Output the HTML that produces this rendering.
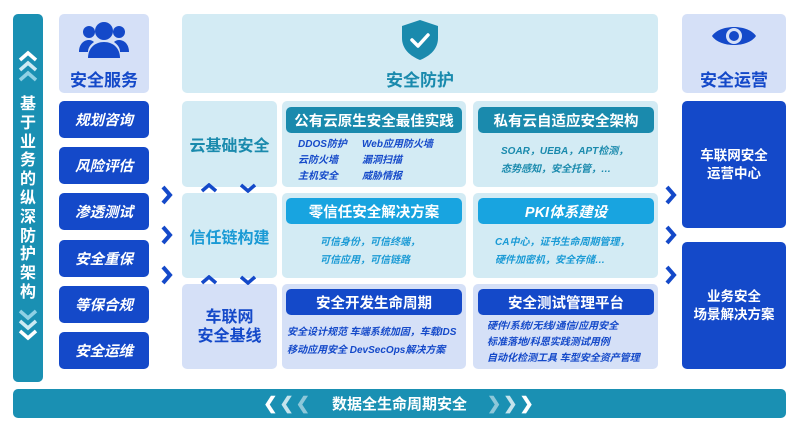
<!DOCTYPE html>
<html><head><meta charset="utf-8"><style>
*{margin:0;padding:0;box-sizing:border-box}
body{width:800px;height:432px;background:#fff;position:relative;overflow:hidden;font-family:"Liberation Sans","Noto Sans CJK SC",sans-serif}
.a{position:absolute}
.r{border-radius:5px}
.c{display:flex;align-items:center;justify-content:center;text-align:center}
.svc{left:59px;width:90px;height:37px;background:#1449c9;color:#fff;font-size:14.5px;font-weight:bold;font-style:italic}
.lt{background:#d3ebf4}
.lv{background:#d5e0f7}
.hd{height:26px;color:#fff;font-size:14.5px;font-weight:bold;border-radius:5px}
.t{font-size:10px;font-style:italic;font-weight:bold;line-height:16px}
</style></head><body>
<svg width="0" height="0" style="position:absolute"><defs>
<symbol id="ar" viewBox="0 0 12 20"><path d="M2 2l7 8-7 8" stroke="#1449c9" stroke-width="4" fill="none"/></symbol>
<symbol id="up" viewBox="0 0 16 10"><path d="M1 8l7-6 7 6" stroke="#1449c9" stroke-width="3.5" fill="none"/></symbol>
<symbol id="dn" viewBox="0 0 16 10"><path d="M1 2l7 6 7-6" stroke="#1449c9" stroke-width="3.5" fill="none"/></symbol>
</defs></svg>
<div class="a r" style="left:13px;top:14px;width:30px;height:368px;background:#1a90b3"></div>
<svg class="a" style="left:18px;top:50px" width="20" height="36" viewBox="0 0 20 36"><g fill="none" stroke-width="3.5"><path d="M2 10l8-7 8 7" stroke="#fff"/><path d="M2 20l8-7 8 7" stroke="#cdeaf3"/><path d="M2 30l8-7 8 7" stroke="#8fd0e4"/></g></svg>
<div class="a" style="left:18px;top:96px;width:20px;color:#fff;font-size:16px;font-weight:bold;line-height:18.8px;text-align:center">基<br>于<br>业<br>务<br>的<br>纵<br>深<br>防<br>护<br>架<br>构</div>
<svg class="a" style="left:18px;top:306px" width="20" height="36" viewBox="0 0 20 36"><g fill="none" stroke-width="3.5"><path d="M2 5l8 7 8-7" stroke="#8fd0e4"/><path d="M2 15l8 7 8-7" stroke="#cdeaf3"/><path d="M2 25l8 7 8-7" stroke="#fff"/></g></svg>

<div class="a r lv" style="left:59px;top:14px;width:90px;height:79px"></div>
<svg class="a" style="left:79px;top:20px" width="50" height="38" viewBox="0 0 50 38"><g fill="#1449c9"><circle cx="25" cy="11" r="9"/><path d="M9 38c0-10 7-16 16-16s16 6 16 16z"/><circle cx="10" cy="12" r="6"/><circle cx="40" cy="12" r="6"/><path d="M0 32c0-7 4-12 10-12 2 0 4 1 5 2-4 3-6 6-6 10z"/><path d="M50 32c0-7-4-12-10-12-2 0-4 1-5 2 4 3 6 6 6 10z"/></g></svg>
<div class="a c" style="left:59px;top:66px;width:90px;color:#1449c9;font-size:17px;font-weight:bold">安全服务</div>
<div class="a r c svc" style="top:101px">规划咨询</div>
<div class="a r c svc" style="top:147px">风险评估</div>
<div class="a r c svc" style="top:193px">渗透测试</div>
<div class="a r c svc" style="top:240px">安全重保</div>
<div class="a r c svc" style="top:286px">等保合规</div>
<div class="a r c svc" style="top:332px">安全运维</div>

<svg class="a" style="left:161px;top:185px" width="12" height="20"><use href="#ar"/></svg>
<svg class="a" style="left:161px;top:225px" width="12" height="20"><use href="#ar"/></svg>
<svg class="a" style="left:161px;top:265px" width="12" height="20"><use href="#ar"/></svg>
<svg class="a" style="left:665px;top:185px" width="12" height="20"><use href="#ar"/></svg>
<svg class="a" style="left:665px;top:225px" width="12" height="20"><use href="#ar"/></svg>
<svg class="a" style="left:665px;top:265px" width="12" height="20"><use href="#ar"/></svg>

<div class="a r lt" style="left:182px;top:14px;width:476px;height:79px"></div>
<svg class="a" style="left:402px;top:20px" width="36" height="40" viewBox="0 0 36 40"><path d="M18 0L36 6v12c0 11-8 18-18 22C8 36 0 29 0 18V6z" fill="#1a8aad"/><path d="M10 20l6 6 10-11" stroke="#fff" stroke-width="3.5" fill="none" stroke-linecap="round" stroke-linejoin="round"/></svg>
<div class="a c" style="left:182px;top:66px;width:476px;color:#1a8aad;font-size:17px;font-weight:bold">安全防护</div>

<div class="a r lt c" style="left:182px;top:101px;width:95px;height:86px;color:#1a8aad;font-size:16px;font-weight:bold">云基础安全</div>
<div class="a r lt" style="left:282px;top:101px;width:184px;height:86px"></div>
<div class="a hd c" style="left:286px;top:107px;width:176px;background:#1a8aad">公有云原生安全最佳实践</div>
<div class="a t" style="left:298px;top:137px;color:#1449c9">DDOS防护<br>云防火墙<br>主机安全</div>
<div class="a t" style="left:362px;top:137px;color:#1449c9">Web应用防火墙<br>漏洞扫描<br>威胁情报</div>
<div class="a r lt" style="left:473px;top:101px;width:185px;height:86px"></div>
<div class="a hd c" style="left:478px;top:107px;width:176px;background:#1a8aad">私有云自适应安全架构</div>
<div class="a t" style="left:501px;top:143px;color:#1a8aad;line-height:18px">SOAR，UEBA，APT检测，<br>态势感知，安全托管，…</div>

<div class="a r lt c" style="left:182px;top:193px;width:95px;height:85px;color:#1a9ad5;font-size:16px;font-weight:bold">信任链构建</div>
<div class="a r lt" style="left:282px;top:193px;width:184px;height:85px"></div>
<div class="a hd c" style="left:286px;top:198px;width:176px;background:#18a4e0">零信任安全解决方案</div>
<div class="a t" style="left:320px;top:234px;color:#1a9ad5;line-height:18px">可信身份，可信终端，<br>可信应用，可信链路</div>
<div class="a r lt" style="left:473px;top:193px;width:185px;height:85px"></div>
<div class="a hd c" style="left:478px;top:198px;width:176px;background:#18a4e0;font-style:italic">PKI体系建设</div>
<div class="a t" style="left:495px;top:234px;color:#1a9ad5;line-height:18px">CA中心，证书生命周期管理，<br>硬件加密机，安全存储…</div>

<div class="a r lv c" style="left:182px;top:284px;width:95px;height:85px;color:#1449c9;font-size:16px;font-weight:bold;line-height:19px">车联网<br>安全基线</div>
<div class="a r lv" style="left:282px;top:284px;width:184px;height:85px"></div>
<div class="a hd c" style="left:286px;top:289px;width:176px;background:#1449c9">安全开发生命周期</div>
<div class="a t" style="left:287px;top:324px;color:#1449c9;line-height:18px">安全设计规范 车端系统加固，车载IDS<br>移动应用安全 DevSecOps解决方案</div>
<div class="a r lv" style="left:473px;top:284px;width:185px;height:85px"></div>
<div class="a hd c" style="left:478px;top:289px;width:176px;background:#1449c9">安全测试管理平台</div>
<div class="a t" style="left:487px;top:319px;color:#1449c9">硬件/系统/无线/通信/应用安全<br>标准落地/科恩实践测试用例<br>自动化检测工具 车型安全资产管理</div>

<svg class="a" style="left:201px;top:183px" width="16" height="10"><use href="#up"/></svg>
<svg class="a" style="left:240px;top:183px" width="16" height="10"><use href="#dn"/></svg>
<svg class="a" style="left:201px;top:275px" width="16" height="10"><use href="#up"/></svg>
<svg class="a" style="left:240px;top:275px" width="16" height="10"><use href="#dn"/></svg>

<div class="a r lv" style="left:682px;top:14px;width:104px;height:79px"></div>
<svg class="a" style="left:712px;top:22px" width="44" height="28" viewBox="0 0 44 28"><path d="M0 14C8 2 36 2 44 14 36 26 8 26 0 14z" fill="#1449c9"/><circle cx="22" cy="14" r="8" fill="#d5e0f7"/><circle cx="22" cy="14" r="5" fill="#1449c9"/></svg>
<div class="a c" style="left:682px;top:66px;width:104px;color:#1449c9;font-size:17px;font-weight:bold">安全运营</div>
<div class="a r c" style="left:682px;top:101px;width:104px;height:127px;background:#1449c9;color:#fff;font-size:13.5px;font-weight:bold;line-height:18px">车联网安全<br>运营中心</div>
<div class="a r c" style="left:682px;top:242px;width:104px;height:127px;background:#1449c9;color:#fff;font-size:13.5px;font-weight:bold;line-height:18px">业务安全<br>场景解决方案</div>

<div class="a r c" style="left:13px;top:389px;width:773px;height:29px;background:#1a90b3;color:#fff;font-size:15px;font-weight:bold">
<span style="font-size:17px;letter-spacing:2px"><span>❮</span><span style="opacity:.75">❮</span><span style="opacity:.5">❮</span></span>
<span style="margin:0 20px">数据全生命周期安全</span>
<span style="font-size:17px;letter-spacing:2px"><span style="opacity:.5">❯</span><span style="opacity:.75">❯</span><span>❯</span></span></div>
</body></html>
